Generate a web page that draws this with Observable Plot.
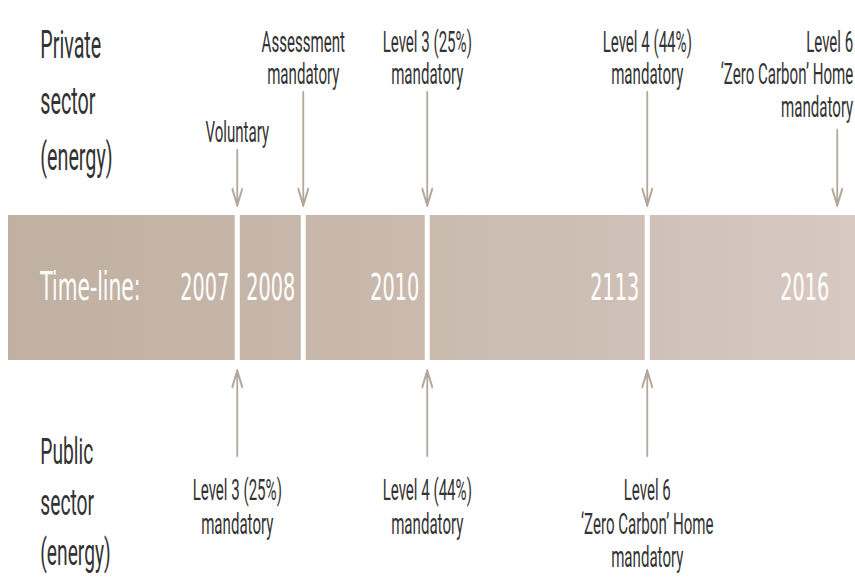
<!DOCTYPE html>
<html>
<head>
<meta charset="utf-8">
<script src="https://cdn.jsdelivr.net/npm/d3@7"></script>
<script src="https://cdn.jsdelivr.net/npm/@observablehq/plot@0.6"></script>
<style>
html, body { margin: 0; padding: 0; background: #fff; overflow: hidden; }
#chart { width: 855px; height: 578px; overflow: hidden; position: relative; }
</style>
</head>
<body>
<div id="chart"></div>
<script>
// ---------- data ----------
const timelineTitle = "Time-line:";
const timelineStart = 2006;
const timelineEnd = 2017;
const yearValues = [2007, 2008, 2010, 2013, 2016];
const yearLabels = ["2007", "2008", "2010", "2113", "2016"];
const dividerYears = [2007, 2008, 2010, 2013];
const sectorLabels = ["Private\nsector\n(energy)", "Public\nsector\n(energy)"];
const privateYears = [2007, 2008, 2010, 2013, 2016];
const privateLabels = [
  "Voluntary",
  "Assessment\nmandatory",
  "Level 3 (25%)\nmandatory",
  "Level 4 (44%)\nmandatory",
  "Level 6\n\u2018Zero Carbon\u2019 Home\nmandatory"
];
const publicYears = [2007, 2010, 2013];
const publicLabels = [
  "Level 3 (25%)\nmandatory",
  "Level 4 (44%)\nmandatory",
  "Level 6\n\u2018Zero Carbon\u2019 Home\nmandatory"
];

// ---------- tables ----------
const yearsTable = yearValues.map((year, i) => ({year, label: yearLabels[i]}));
const privateEvents = privateYears.map((year, i) => ({
  year, label: privateLabels[i], lines: privateLabels[i].split("\n").length, last: i === privateYears.length - 1
}));
const publicEvents = publicYears.map((year, i) => ({year, label: publicLabels[i]}));
const bandTable = [{start: timelineStart, end: timelineEnd}];

// ---------- layout / style ----------
const S = 0.52;               // horizontal condensing of the whole drawing
const W = 855 / S, H = 578;
const px = v => v / S;
const ink = "#333333";
const arrowInk = "#b3a89b";
const annoFont = "Roboto, 'Noto Sans', sans-serif";
const bandFont = "'DejaVu Sans', Roboto, sans-serif";

const plot = Plot.plot({
  width: W,
  height: H,
  margin: 0,
  x: {type: "linear", axis: null, domain: [timelineStart, ...yearValues], range: [8, 237, 303, 427, 647, 837].map(px)},
  y: {type: "linear", axis: null, domain: [-1, 1], range: [360, 215]},
  marks: [
    Plot.rect(bandTable, {x1: "start", x2: "end", y1: -1, y2: 1, fill: "url(#bandGradient)"}),
    Plot.ruleX(dividerYears, {x: d => d, y1: -1, y2: 1, stroke: "#ffffff", strokeWidth: px(5)}),
    Plot.text([timelineTitle], {x: timelineStart, dx: px(32), y: 0, textAnchor: "start", lineAnchor: "middle",
      fill: "#ffffff", fontSize: 39, fontFamily: bandFont}),
    Plot.text(yearsTable, {x: "year", dx: px(-8), y: 0, text: "label", textAnchor: "end", lineAnchor: "middle",
      fill: "#ffffff", fontSize: 37, fontFamily: bandFont}),

    // sector labels
    Plot.text([sectorLabels[0]], {frameAnchor: "left", dx: px(40), y: 3.717, textAnchor: "start", lineAnchor: "top",
      lineHeight: 1.47, fill: ink, fontSize: 38, fontFamily: annoFont}),
    Plot.text([sectorLabels[1]], {frameAnchor: "left", dx: px(40), y: -1.938, textAnchor: "start", lineAnchor: "top",
      lineHeight: 1.36, fill: ink, fontSize: 37, fontFamily: annoFont}),

    // private sector arrows + labels
    Plot.arrow(privateEvents, {x1: "year", x2: "year",
      y1: d => d.lines === 1 ? 1.897 : d.lines === 2 ? 2.697 : 2.172, y2: 1.138,
      stroke: arrowInk, strokeWidth: 3.5, headLength: 8}),
    Plot.text(privateEvents, {filter: d => !d.last, x: "year", y: d => d.lines === 1 ? 2.33 : 3.579, text: "label",
      textAnchor: "middle", lineAnchor: "top", lineHeight: 1.12, fill: ink, fontSize: 29, fontFamily: annoFont}),
    Plot.text(privateEvents, {filter: d => d.last, x: "year", dx: px(16), y: 3.579, text: "label",
      textAnchor: "end", lineAnchor: "top", lineHeight: 1.12, fill: ink, fontSize: 29, fontFamily: annoFont}),

    // public sector arrows + labels
    Plot.arrow(publicEvents, {x1: "year", x2: "year", y1: -2.31, y2: -1.138,
      stroke: arrowInk, strokeWidth: 3.5, headLength: 8}),
    Plot.text(publicEvents, {x: "year", y: -2.6, text: "label", textAnchor: "middle", lineAnchor: "top",
      lineHeight: 1.15, fill: ink, fontSize: 29, fontFamily: annoFont})
  ]
});

// band gradient
const defs = d3.select(plot).insert("defs", ":first-child");
const grad = defs.append("linearGradient")
  .attr("id", "bandGradient")
  .attr("gradientUnits", "userSpaceOnUse")
  .attr("x1", 0).attr("x2", W).attr("y1", 0).attr("y2", 0);
[["0%", "#bfb0a2"], ["40%", "#c8b8ab"], ["70%", "#cebfb5"], ["100%", "#d7c9c2"]]
  .forEach(([o, c]) => grad.append("stop").attr("offset", o).attr("stop-color", c));

plot.style.maxWidth = "none";
plot.style.height = H + "px";
plot.style.transform = `scaleX(${S})`;
plot.style.transformOrigin = "0 0";
document.getElementById("chart").appendChild(plot);
</script>
</body>
</html>
